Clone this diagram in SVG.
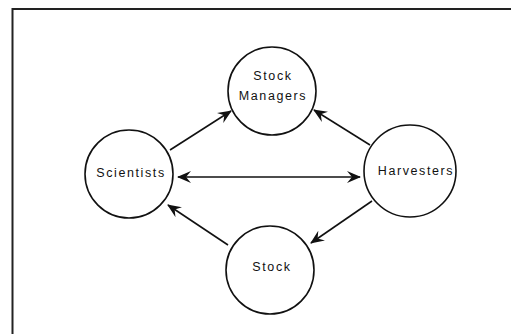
<svg xmlns="http://www.w3.org/2000/svg" width="511" height="334" viewBox="0 0 511 334">
<style>
.n{fill:#fff;stroke:#111;stroke-width:1.6}
.t{font-family:"Liberation Sans",Arial,sans-serif;font-size:12.5px;letter-spacing:1.6px;fill:#111;text-anchor:middle}
.c{stroke:#111;stroke-width:1.6;fill:none;marker-end:url(#ah)}
</style>
<defs>
<marker id="ah" viewBox="0 0 14 12" refX="13" refY="6" markerWidth="14" markerHeight="12" markerUnits="userSpaceOnUse" orient="auto-start-reverse">
<path d="M0,0 L14,6 L0,12 L5,6 Z" fill="#111"/>
</marker>
</defs>
<rect x="0" y="0" width="511" height="334" fill="#fff"/>
<rect x="12.5" y="9" width="510" height="340" fill="none" stroke="#222" stroke-width="2"/>
<g id="connectors">
<line class="c" x1="170" y1="150" x2="231" y2="111"/>
<line class="c" x1="370" y1="145" x2="314" y2="110"/>
<line class="c" x1="178" y1="177" x2="360" y2="177" style="marker-start:url(#ah)"/>
<line class="c" x1="372" y1="201" x2="311" y2="243"/>
<line class="c" x1="228" y1="245" x2="168" y2="205"/>
</g>
<g id="stock-managers">
<circle class="n" cx="272" cy="91" r="44"/>
<text class="t" x="273" y="80">Stock</text>
<text class="t" x="273" y="100">Managers</text>
</g>
<g id="scientists">
<circle class="n" cx="129" cy="174" r="44"/>
<text class="t" x="131" y="177">Scientists</text>
</g>
<g id="harvesters">
<circle class="n" cx="410" cy="171" r="46"/>
<text class="t" x="416" y="175">Harvesters</text>
</g>
<g id="stock">
<circle class="n" cx="270" cy="270" r="44"/>
<text class="t" x="272" y="271">Stock</text>
</g>
</svg>
